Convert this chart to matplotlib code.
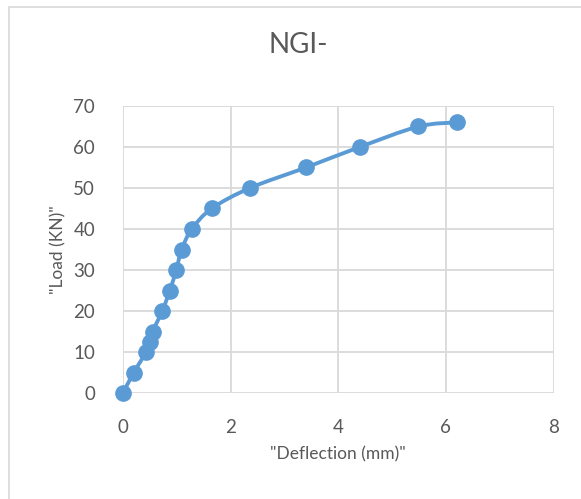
import matplotlib
matplotlib.use("Agg")
import matplotlib.pyplot as plt
import numpy as np
from matplotlib.path import Path
from matplotlib.patches import PathPatch, Rectangle

# data
deflection = [0.0, 0.2, 0.43, 0.5, 0.55, 0.73, 0.87, 0.99, 1.09, 1.28, 1.65, 2.36, 3.4, 4.4, 5.49, 6.2]
load = [0, 5, 10, 12.5, 15, 20, 25, 30, 35, 40, 45, 50, 55, 60, 65, 66]
x_ticks = [0, 2, 4, 6, 8]
y_ticks = [0, 10, 20, 30, 40, 50, 60, 70]

blue = "#5B9BD5"
grey = "#595959"
grid = "#D9D9D9"

plt.rcParams['font.family'] = ['Lato', 'DejaVu Sans']

fig = plt.figure(figsize=(5.81, 4.99), dpi=100)
ax = fig.add_axes([0.2117, 0.2124, 0.741, 0.5752])

# chart area border (left/top edges visible)
fig.patches.append(Rectangle((9 / 581, -0.1), 1.2, 1 - 7 / 499 + 0.1, transform=fig.transFigure,
                             fill=False, edgecolor=grid, linewidth=1.2))


def smooth_path(x, y):
    # catmull-rom style bezier, like excel's smoothed line
    pts = np.column_stack([x, y])
    verts = [pts[0]]
    codes = [Path.MOVETO]
    n = len(pts)
    for i in range(n - 1):
        p0 = pts[i - 1] if i > 0 else pts[i]
        p1 = pts[i]
        p2 = pts[i + 1]
        p3 = pts[i + 2] if i + 2 < n else pts[i + 1]
        c1 = p1 + (p2 - p0) / 6.0
        c2 = p2 - (p3 - p1) / 6.0
        verts += [c1, c2, p2]
        codes += [Path.CURVE4] * 3
    return Path(verts, codes)


ax.add_patch(PathPatch(smooth_path(deflection, load), facecolor="none", edgecolor=blue,
                       linewidth=2.8, capstyle="round", joinstyle="round", zorder=3, clip_on=False))
ax.plot(deflection, load, linestyle="none", marker="o", markersize=11, color=blue, zorder=4, clip_on=False)

ax.set_xlim(0, 8)
ax.set_ylim(0, 70)
ax.set_xticks(x_ticks)
ax.set_yticks(y_ticks)
ax.grid(True, color=grid, linewidth=1.3)
ax.set_axisbelow(True)
for s in ax.spines.values():
    s.set_visible(False)
ax.tick_params(length=0, labelsize=13.5, labelcolor=grey)
ax.tick_params(axis="x", pad=19)
ax.tick_params(axis="y", pad=20)

ax.set_xlabel('"Deflection (mm)"', fontsize=12.5, color=grey, labelpad=7)
ax.set_ylabel('"Load (KN)"', fontsize=12.5, color=grey, labelpad=5)
fig.text(298 / 581, 1 - 45 / 499, "NGI-", fontsize=20, color=grey, ha="center", va="center")

fig.savefig("out.png", dpi=100)
